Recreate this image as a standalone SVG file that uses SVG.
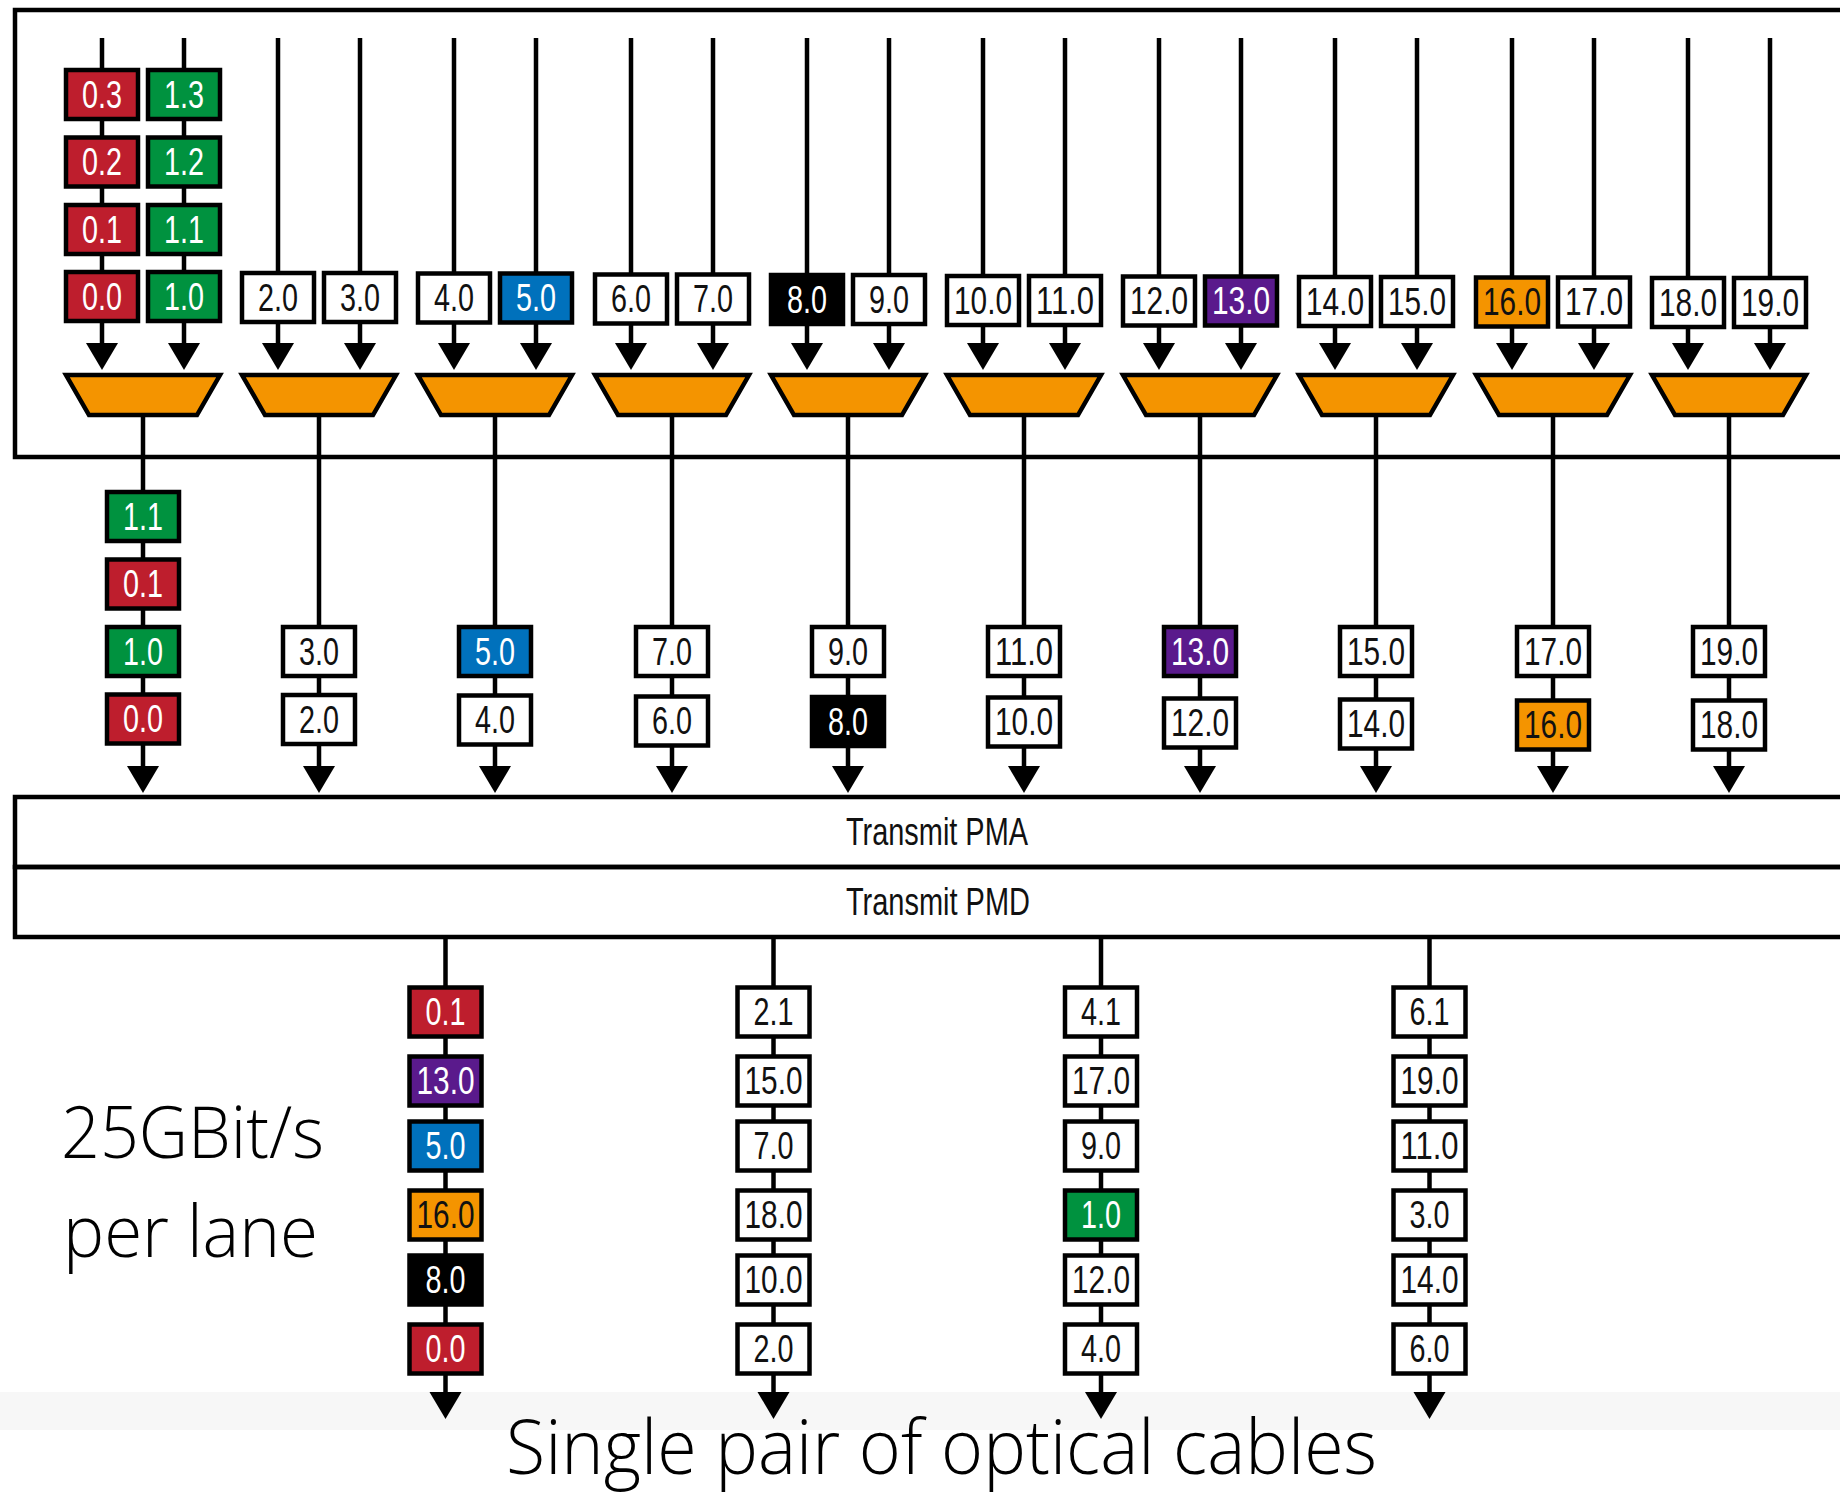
<svg xmlns="http://www.w3.org/2000/svg" width="1840" height="1494" viewBox="0 0 1840 1494">
  <style>
    .frame { fill: none; stroke: #000; stroke-width: 4.5; }
    .ln { fill: none; stroke: #000; stroke-width: 4.5; marker-end: url(#arr); }
    .bx { stroke: #000; stroke-width: 4.5; }
    .mux { fill: #F49400; stroke: #000; stroke-width: 4.5; stroke-linejoin: miter; }
    .w { fill: #fff; } .r { fill: #BE1E2D; } .g { fill: #00923F; } .b { fill: #0071BC; }
    .p { fill: #5A1A8C; } .o { fill: #F49400; } .k { fill: #000; }
    .t { font-family: "Liberation Sans Narrow", "Liberation Sans", Arial, sans-serif; font-size: 38px; text-anchor: middle; }
    .tw { fill: #fff; } .tk { fill: #111; }
    .lay { font-family: "Liberation Sans Narrow", "Liberation Sans", Arial, sans-serif; font-size: 38px; text-anchor: middle; fill: #111; }
    .big { font-family: "Open Sans", "Segoe UI", "Liberation Sans", sans-serif; font-weight: 300; fill: #000; }
  </style>
  <defs>
    <marker id="arr" markerUnits="userSpaceOnUse" markerWidth="32" markerHeight="28" refX="16" refY="22" orient="0" overflow="visible">
      <path d="M0,0 L32,0 L16,27 Z" fill="#000"/>
    </marker>
  </defs>

  <rect x="0" y="0" width="1840" height="1494" fill="#fff"/>
  <!-- faint band behind the cable arrows -->
  <rect x="0" y="1392" width="1840" height="38" fill="#f7f7f7"/>

  <!-- encoder block frame -->
  <g id="encoder-frame"><rect class="frame" x="15" y="10" width="1840" height="447"/></g>

  <!-- PMA / PMD layers -->
  <g id="pma"><rect class="frame" x="15" y="797" width="1840" height="70"/><text class="lay" x="937" y="845" textLength="182" lengthAdjust="spacingAndGlyphs">Transmit PMA</text></g>
  <g id="pmd"><rect class="frame" x="15" y="867" width="1840" height="70"/><text class="lay" x="938" y="915" textLength="184" lengthAdjust="spacingAndGlyphs">Transmit PMD</text></g>

  <!-- connectors -->
  <g id="connectors">
    <!-- PCS lanes into the muxes -->
    <path class="ln" d="M102,38 V365"/><path class="ln" d="M184,38 V365"/>
    <path class="ln" d="M278,38 V365"/><path class="ln" d="M360,38 V365"/>
    <path class="ln" d="M454,38 V365"/><path class="ln" d="M536,38 V365"/>
    <path class="ln" d="M631,38 V365"/><path class="ln" d="M713,38 V365"/>
    <path class="ln" d="M807,38 V365"/><path class="ln" d="M889,38 V365"/>
    <path class="ln" d="M983,38 V365"/><path class="ln" d="M1065,38 V365"/>
    <path class="ln" d="M1159,38 V365"/><path class="ln" d="M1241,38 V365"/>
    <path class="ln" d="M1335,38 V365"/><path class="ln" d="M1417,38 V365"/>
    <path class="ln" d="M1512,38 V365"/><path class="ln" d="M1594,38 V365"/>
    <path class="ln" d="M1688,38 V365"/><path class="ln" d="M1770,38 V365"/>
    <!-- mux outputs into the PMA -->
    <path class="ln" d="M143,415 V788"/><path class="ln" d="M319,415 V788"/>
    <path class="ln" d="M495,415 V788"/><path class="ln" d="M672,415 V788"/>
    <path class="ln" d="M848,415 V788"/><path class="ln" d="M1024,415 V788"/>
    <path class="ln" d="M1200,415 V788"/><path class="ln" d="M1376,415 V788"/>
    <path class="ln" d="M1553,415 V788"/><path class="ln" d="M1729,415 V788"/>
    <!-- PMD lanes out to the fibre -->
    <path class="ln" d="M445.5,937 V1414"/><path class="ln" d="M773.5,937 V1414"/>
    <path class="ln" d="M1101,937 V1414"/><path class="ln" d="M1429.5,937 V1414"/>
  </g>

  <!-- 2:1 multiplexers -->
  <g id="mux-0"><polygon class="mux" points="66,375 220,375 197,415 89,415"/></g>
  <g id="mux-1"><polygon class="mux" points="242,375 396,375 373,415 265,415"/></g>
  <g id="mux-2"><polygon class="mux" points="418,375 572,375 549,415 441,415"/></g>
  <g id="mux-3"><polygon class="mux" points="595,375 749,375 726,415 618,415"/></g>
  <g id="mux-4"><polygon class="mux" points="771,375 925,375 902,415 794,415"/></g>
  <g id="mux-5"><polygon class="mux" points="947,375 1101,375 1078,415 970,415"/></g>
  <g id="mux-6"><polygon class="mux" points="1123,375 1277,375 1254,415 1146,415"/></g>
  <g id="mux-7"><polygon class="mux" points="1299,375 1453,375 1430,415 1322,415"/></g>
  <g id="mux-8"><polygon class="mux" points="1476,375 1630,375 1607,415 1499,415"/></g>
  <g id="mux-9"><polygon class="mux" points="1652,375 1806,375 1783,415 1675,415"/></g>

  <!-- PCS lane blocks entering the muxes -->
  <g id="in-0-3"><rect class="bx r" x="66" y="70" width="72" height="49"/><text class="t tw" x="102" y="107.5" textLength="40" lengthAdjust="spacingAndGlyphs">0.3</text></g>
  <g id="in-0-2"><rect class="bx r" x="66" y="137.5" width="72" height="49"/><text class="t tw" x="102" y="175" textLength="40" lengthAdjust="spacingAndGlyphs">0.2</text></g>
  <g id="in-0-1"><rect class="bx r" x="66" y="205" width="72" height="49"/><text class="t tw" x="102" y="242.5" textLength="40" lengthAdjust="spacingAndGlyphs">0.1</text></g>
  <g id="in-0-0"><rect class="bx r" x="66" y="272" width="72" height="49"/><text class="t tw" x="102" y="309.5" textLength="40" lengthAdjust="spacingAndGlyphs">0.0</text></g>
  <g id="in-1-3"><rect class="bx g" x="148" y="70" width="72" height="49"/><text class="t tw" x="184" y="107.5" textLength="40" lengthAdjust="spacingAndGlyphs">1.3</text></g>
  <g id="in-1-2"><rect class="bx g" x="148" y="137.5" width="72" height="49"/><text class="t tw" x="184" y="175" textLength="40" lengthAdjust="spacingAndGlyphs">1.2</text></g>
  <g id="in-1-1"><rect class="bx g" x="148" y="205" width="72" height="49"/><text class="t tw" x="184" y="242.5" textLength="40" lengthAdjust="spacingAndGlyphs">1.1</text></g>
  <g id="in-1-0"><rect class="bx g" x="148" y="272" width="72" height="49"/><text class="t tw" x="184" y="309.5" textLength="40" lengthAdjust="spacingAndGlyphs">1.0</text></g>

  <g id="in-2-0"><rect class="bx w" x="242" y="273" width="72" height="49"/><text class="t tk" x="278" y="310.5" textLength="40" lengthAdjust="spacingAndGlyphs">2.0</text></g>
  <g id="in-3-0"><rect class="bx w" x="324" y="273" width="72" height="49"/><text class="t tk" x="360" y="310.5" textLength="40" lengthAdjust="spacingAndGlyphs">3.0</text></g>
  <g id="in-4-0"><rect class="bx w" x="418" y="273.5" width="72" height="49"/><text class="t tk" x="454" y="311" textLength="40" lengthAdjust="spacingAndGlyphs">4.0</text></g>
  <g id="in-5-0"><rect class="bx b" x="500" y="273.5" width="72" height="49"/><text class="t tw" x="536" y="311" textLength="40" lengthAdjust="spacingAndGlyphs">5.0</text></g>
  <g id="in-6-0"><rect class="bx w" x="595" y="274.5" width="72" height="49"/><text class="t tk" x="631" y="312" textLength="40" lengthAdjust="spacingAndGlyphs">6.0</text></g>
  <g id="in-7-0"><rect class="bx w" x="677" y="274.5" width="72" height="49"/><text class="t tk" x="713" y="312" textLength="40" lengthAdjust="spacingAndGlyphs">7.0</text></g>
  <g id="in-8-0"><rect class="bx k" x="771" y="275" width="72" height="49"/><text class="t tw" x="807" y="312.5" textLength="40" lengthAdjust="spacingAndGlyphs">8.0</text></g>
  <g id="in-9-0"><rect class="bx w" x="853" y="275" width="72" height="49"/><text class="t tk" x="889" y="312.5" textLength="40" lengthAdjust="spacingAndGlyphs">9.0</text></g>
  <g id="in-10-0"><rect class="bx w" x="947" y="276" width="72" height="49"/><text class="t tk" x="983" y="313.5" textLength="58" lengthAdjust="spacingAndGlyphs">10.0</text></g>
  <g id="in-11-0"><rect class="bx w" x="1029" y="276" width="72" height="49"/><text class="t tk" x="1065" y="313.5" textLength="58" lengthAdjust="spacingAndGlyphs">11.0</text></g>
  <g id="in-12-0"><rect class="bx w" x="1123" y="276.5" width="72" height="49"/><text class="t tk" x="1159" y="314" textLength="58" lengthAdjust="spacingAndGlyphs">12.0</text></g>
  <g id="in-13-0"><rect class="bx p" x="1205" y="276.5" width="72" height="49"/><text class="t tw" x="1241" y="314" textLength="58" lengthAdjust="spacingAndGlyphs">13.0</text></g>
  <g id="in-14-0"><rect class="bx w" x="1299" y="277" width="72" height="49"/><text class="t tk" x="1335" y="314.5" textLength="58" lengthAdjust="spacingAndGlyphs">14.0</text></g>
  <g id="in-15-0"><rect class="bx w" x="1381" y="277" width="72" height="49"/><text class="t tk" x="1417" y="314.5" textLength="58" lengthAdjust="spacingAndGlyphs">15.0</text></g>
  <g id="in-16-0"><rect class="bx o" x="1476" y="277.5" width="72" height="49"/><text class="t tk" x="1512" y="315" textLength="58" lengthAdjust="spacingAndGlyphs">16.0</text></g>
  <g id="in-17-0"><rect class="bx w" x="1558" y="277.5" width="72" height="49"/><text class="t tk" x="1594" y="315" textLength="58" lengthAdjust="spacingAndGlyphs">17.0</text></g>
  <g id="in-18-0"><rect class="bx w" x="1652" y="278" width="72" height="49"/><text class="t tk" x="1688" y="315.5" textLength="58" lengthAdjust="spacingAndGlyphs">18.0</text></g>
  <g id="in-19-0"><rect class="bx w" x="1734" y="278" width="72" height="49"/><text class="t tk" x="1770" y="315.5" textLength="58" lengthAdjust="spacingAndGlyphs">19.0</text></g>

  <!-- muxed lanes between encoder and PMA -->
  <g id="mid-0-a"><rect class="bx g" x="107" y="492" width="72" height="49"/><text class="t tw" x="143" y="529.5" textLength="40" lengthAdjust="spacingAndGlyphs">1.1</text></g>
  <g id="mid-0-b"><rect class="bx r" x="107" y="559.5" width="72" height="49"/><text class="t tw" x="143" y="597" textLength="40" lengthAdjust="spacingAndGlyphs">0.1</text></g>
  <g id="mid-0-c"><rect class="bx g" x="107" y="627" width="72" height="49"/><text class="t tw" x="143" y="664.5" textLength="40" lengthAdjust="spacingAndGlyphs">1.0</text></g>
  <g id="mid-0-d"><rect class="bx r" x="107" y="694.5" width="72" height="49"/><text class="t tw" x="143" y="732" textLength="40" lengthAdjust="spacingAndGlyphs">0.0</text></g>

  <g id="mid-1-a"><rect class="bx w" x="283" y="627" width="72" height="49"/><text class="t tk" x="319" y="664.5" textLength="40" lengthAdjust="spacingAndGlyphs">3.0</text></g>
  <g id="mid-1-b"><rect class="bx w" x="283" y="695" width="72" height="49"/><text class="t tk" x="319" y="732.5" textLength="40" lengthAdjust="spacingAndGlyphs">2.0</text></g>
  <g id="mid-2-a"><rect class="bx b" x="459" y="627" width="72" height="49"/><text class="t tw" x="495" y="664.5" textLength="40" lengthAdjust="spacingAndGlyphs">5.0</text></g>
  <g id="mid-2-b"><rect class="bx w" x="459" y="695.5" width="72" height="49"/><text class="t tk" x="495" y="733" textLength="40" lengthAdjust="spacingAndGlyphs">4.0</text></g>
  <g id="mid-3-a"><rect class="bx w" x="636" y="627" width="72" height="49"/><text class="t tk" x="672" y="664.5" textLength="40" lengthAdjust="spacingAndGlyphs">7.0</text></g>
  <g id="mid-3-b"><rect class="bx w" x="636" y="696.5" width="72" height="49"/><text class="t tk" x="672" y="734" textLength="40" lengthAdjust="spacingAndGlyphs">6.0</text></g>
  <g id="mid-4-a"><rect class="bx w" x="812" y="627" width="72" height="49"/><text class="t tk" x="848" y="664.5" textLength="40" lengthAdjust="spacingAndGlyphs">9.0</text></g>
  <g id="mid-4-b"><rect class="bx k" x="812" y="697" width="72" height="49"/><text class="t tw" x="848" y="734.5" textLength="40" lengthAdjust="spacingAndGlyphs">8.0</text></g>
  <g id="mid-5-a"><rect class="bx w" x="988" y="627" width="72" height="49"/><text class="t tk" x="1024" y="664.5" textLength="58" lengthAdjust="spacingAndGlyphs">11.0</text></g>
  <g id="mid-5-b"><rect class="bx w" x="988" y="697.5" width="72" height="49"/><text class="t tk" x="1024" y="735" textLength="58" lengthAdjust="spacingAndGlyphs">10.0</text></g>
  <g id="mid-6-a"><rect class="bx p" x="1164" y="627" width="72" height="49"/><text class="t tw" x="1200" y="664.5" textLength="58" lengthAdjust="spacingAndGlyphs">13.0</text></g>
  <g id="mid-6-b"><rect class="bx w" x="1164" y="698.5" width="72" height="49"/><text class="t tk" x="1200" y="736" textLength="58" lengthAdjust="spacingAndGlyphs">12.0</text></g>
  <g id="mid-7-a"><rect class="bx w" x="1340" y="627" width="72" height="49"/><text class="t tk" x="1376" y="664.5" textLength="58" lengthAdjust="spacingAndGlyphs">15.0</text></g>
  <g id="mid-7-b"><rect class="bx w" x="1340" y="699.5" width="72" height="49"/><text class="t tk" x="1376" y="737" textLength="58" lengthAdjust="spacingAndGlyphs">14.0</text></g>
  <g id="mid-8-a"><rect class="bx w" x="1517" y="627" width="72" height="49"/><text class="t tk" x="1553" y="664.5" textLength="58" lengthAdjust="spacingAndGlyphs">17.0</text></g>
  <g id="mid-8-b"><rect class="bx o" x="1517" y="700.5" width="72" height="49"/><text class="t tk" x="1553" y="738" textLength="58" lengthAdjust="spacingAndGlyphs">16.0</text></g>
  <g id="mid-9-a"><rect class="bx w" x="1693" y="627" width="72" height="49"/><text class="t tk" x="1729" y="664.5" textLength="58" lengthAdjust="spacingAndGlyphs">19.0</text></g>
  <g id="mid-9-b"><rect class="bx w" x="1693" y="700.5" width="72" height="49"/><text class="t tk" x="1729" y="738" textLength="58" lengthAdjust="spacingAndGlyphs">18.0</text></g>

  <!-- four 25G optical lanes -->
  <g id="out-a-1"><rect class="bx r" x="409.5" y="987.5" width="72" height="49"/><text class="t tw" x="445.5" y="1025" textLength="40" lengthAdjust="spacingAndGlyphs">0.1</text></g>
  <g id="out-a-2"><rect class="bx p" x="409.5" y="1056.5" width="72" height="49"/><text class="t tw" x="445.5" y="1094" textLength="58" lengthAdjust="spacingAndGlyphs">13.0</text></g>
  <g id="out-a-3"><rect class="bx b" x="409.5" y="1121.5" width="72" height="49"/><text class="t tw" x="445.5" y="1159" textLength="40" lengthAdjust="spacingAndGlyphs">5.0</text></g>
  <g id="out-a-4"><rect class="bx o" x="409.5" y="1190.5" width="72" height="49"/><text class="t tk" x="445.5" y="1228" textLength="58" lengthAdjust="spacingAndGlyphs">16.0</text></g>
  <g id="out-a-5"><rect class="bx k" x="409.5" y="1255.5" width="72" height="49"/><text class="t tw" x="445.5" y="1293" textLength="40" lengthAdjust="spacingAndGlyphs">8.0</text></g>
  <g id="out-a-6"><rect class="bx r" x="409.5" y="1324.5" width="72" height="49"/><text class="t tw" x="445.5" y="1362" textLength="40" lengthAdjust="spacingAndGlyphs">0.0</text></g>

  <g id="out-b-1"><rect class="bx w" x="737.5" y="987.5" width="72" height="49"/><text class="t tk" x="773.5" y="1025" textLength="40" lengthAdjust="spacingAndGlyphs">2.1</text></g>
  <g id="out-b-2"><rect class="bx w" x="737.5" y="1056.5" width="72" height="49"/><text class="t tk" x="773.5" y="1094" textLength="58" lengthAdjust="spacingAndGlyphs">15.0</text></g>
  <g id="out-b-3"><rect class="bx w" x="737.5" y="1121.5" width="72" height="49"/><text class="t tk" x="773.5" y="1159" textLength="40" lengthAdjust="spacingAndGlyphs">7.0</text></g>
  <g id="out-b-4"><rect class="bx w" x="737.5" y="1190.5" width="72" height="49"/><text class="t tk" x="773.5" y="1228" textLength="58" lengthAdjust="spacingAndGlyphs">18.0</text></g>
  <g id="out-b-5"><rect class="bx w" x="737.5" y="1255.5" width="72" height="49"/><text class="t tk" x="773.5" y="1293" textLength="58" lengthAdjust="spacingAndGlyphs">10.0</text></g>
  <g id="out-b-6"><rect class="bx w" x="737.5" y="1324.5" width="72" height="49"/><text class="t tk" x="773.5" y="1362" textLength="40" lengthAdjust="spacingAndGlyphs">2.0</text></g>

  <g id="out-c-1"><rect class="bx w" x="1065" y="987.5" width="72" height="49"/><text class="t tk" x="1101" y="1025" textLength="40" lengthAdjust="spacingAndGlyphs">4.1</text></g>
  <g id="out-c-2"><rect class="bx w" x="1065" y="1056.5" width="72" height="49"/><text class="t tk" x="1101" y="1094" textLength="58" lengthAdjust="spacingAndGlyphs">17.0</text></g>
  <g id="out-c-3"><rect class="bx w" x="1065" y="1121.5" width="72" height="49"/><text class="t tk" x="1101" y="1159" textLength="40" lengthAdjust="spacingAndGlyphs">9.0</text></g>
  <g id="out-c-4"><rect class="bx g" x="1065" y="1190.5" width="72" height="49"/><text class="t tw" x="1101" y="1228" textLength="40" lengthAdjust="spacingAndGlyphs">1.0</text></g>
  <g id="out-c-5"><rect class="bx w" x="1065" y="1255.5" width="72" height="49"/><text class="t tk" x="1101" y="1293" textLength="58" lengthAdjust="spacingAndGlyphs">12.0</text></g>
  <g id="out-c-6"><rect class="bx w" x="1065" y="1324.5" width="72" height="49"/><text class="t tk" x="1101" y="1362" textLength="40" lengthAdjust="spacingAndGlyphs">4.0</text></g>

  <g id="out-d-1"><rect class="bx w" x="1393.5" y="987.5" width="72" height="49"/><text class="t tk" x="1429.5" y="1025" textLength="40" lengthAdjust="spacingAndGlyphs">6.1</text></g>
  <g id="out-d-2"><rect class="bx w" x="1393.5" y="1056.5" width="72" height="49"/><text class="t tk" x="1429.5" y="1094" textLength="58" lengthAdjust="spacingAndGlyphs">19.0</text></g>
  <g id="out-d-3"><rect class="bx w" x="1393.5" y="1121.5" width="72" height="49"/><text class="t tk" x="1429.5" y="1159" textLength="58" lengthAdjust="spacingAndGlyphs">11.0</text></g>
  <g id="out-d-4"><rect class="bx w" x="1393.5" y="1190.5" width="72" height="49"/><text class="t tk" x="1429.5" y="1228" textLength="40" lengthAdjust="spacingAndGlyphs">3.0</text></g>
  <g id="out-d-5"><rect class="bx w" x="1393.5" y="1255.5" width="72" height="49"/><text class="t tk" x="1429.5" y="1293" textLength="58" lengthAdjust="spacingAndGlyphs">14.0</text></g>
  <g id="out-d-6"><rect class="bx w" x="1393.5" y="1324.5" width="72" height="49"/><text class="t tk" x="1429.5" y="1362" textLength="40" lengthAdjust="spacingAndGlyphs">6.0</text></g>

  <!-- captions -->
  <g id="rate-label">
    <text class="big" x="61" y="1158" font-size="72" textLength="263" lengthAdjust="spacingAndGlyphs">25GBit/s</text>
    <text class="big" x="63" y="1257" font-size="72" textLength="255" lengthAdjust="spacingAndGlyphs">per lane</text>
  </g>
  <g id="cable-label">
    <text class="big" x="506" y="1474" font-size="76" textLength="871" lengthAdjust="spacingAndGlyphs">Single pair of optical cables</text>
  </g>
</svg>
